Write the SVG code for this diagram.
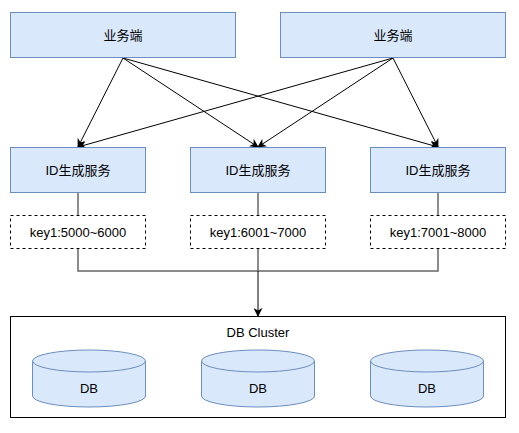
<svg xmlns="http://www.w3.org/2000/svg" width="519" height="433" viewBox="0 0 519 433">
<style>
.box{fill:#dae8fc;stroke:#6c8ebf;stroke-width:1}
.key{fill:#fff;stroke:#000;stroke-width:1;stroke-dasharray:3 3}
.t{font-family:"Liberation Sans","Noto Sans CJK SC",sans-serif;font-size:13px;fill:#000;text-anchor:middle;dominant-baseline:central}
.e{fill:none;stroke:#000;stroke-width:1}
.g{fill:none;stroke:#666;stroke-width:1.5}
</style>
<defs>
<marker id="ah" viewBox="0 0 10 10" refX="9" refY="5" markerWidth="9" markerHeight="9" markerUnits="userSpaceOnUse" orient="auto">
<path d="M0,0 L10,5 L0,10 L3,5 Z" fill="#000"/>
</marker>
</defs>
<rect width="519" height="433" fill="#fff"/>
<g id="connectors">
<line class="e" x1="123" y1="58" x2="78" y2="147" marker-end="url(#ah)"/>
<line class="e" x1="123" y1="58" x2="258" y2="147" marker-end="url(#ah)"/>
<line class="e" x1="123" y1="58" x2="438" y2="147" marker-end="url(#ah)"/>
<line class="e" x1="393" y1="58" x2="78" y2="147" marker-end="url(#ah)"/>
<line class="e" x1="393" y1="58" x2="258" y2="147" marker-end="url(#ah)"/>
<line class="e" x1="393" y1="58" x2="438" y2="147" marker-end="url(#ah)"/>
<line class="g" x1="78" y1="193" x2="78" y2="215"/>
<line class="g" x1="258" y1="193" x2="258" y2="215"/>
<line class="g" x1="438" y1="193" x2="438" y2="215"/>
<polyline class="g" points="78,249 78,271 438,271 438,249"/>
<line class="g" x1="258" y1="249" x2="258" y2="271"/>
<line class="e" x1="258" y1="271" x2="258" y2="316" stroke-width="1.5" marker-end="url(#ah)"/>
</g>
<g id="client1"><rect class="box" x="10.5" y="12.5" width="225" height="45"/><text class="t" x="123" y="35">业务端</text></g>
<g id="client2"><rect class="box" x="280.5" y="12.5" width="225" height="45"/><text class="t" x="393" y="35">业务端</text></g>
<g id="id1"><rect class="box" x="10.5" y="147.5" width="135" height="45"/><text class="t" x="78" y="170">ID生成服务</text></g>
<g id="id2"><rect class="box" x="190.5" y="147.5" width="135" height="45"/><text class="t" x="258" y="170">ID生成服务</text></g>
<g id="id3"><rect class="box" x="370.5" y="147.5" width="135" height="45"/><text class="t" x="438" y="170">ID生成服务</text></g>
<g id="key1"><rect class="key" x="10.5" y="215.5" width="135" height="33"/><text class="t" x="78" y="232">key1:5000~6000</text></g>
<g id="key2"><rect class="key" x="190.5" y="215.5" width="135" height="33"/><text class="t" x="258" y="232">key1:6001~7000</text></g>
<g id="key3"><rect class="key" x="370.5" y="215.5" width="135" height="33"/><text class="t" x="438" y="232">key1:7001~8000</text></g>
<g id="cluster">
<rect x="10.5" y="316.5" width="495" height="101" fill="#fff" stroke="#000" stroke-width="1"/>
<text class="t" x="258" y="332">DB Cluster</text>
</g>
<g id="db1"><path class="box" d="M32.5,361 A56.5,11 0 0 1 145.5,361 L145.5,396 A56.5,11 0 0 1 32.5,396 Z"/><path class="box" fill="none" d="M32.5,361 A56.5,11 0 0 0 145.5,361"/><text class="t" x="89" y="388">DB</text></g>
<g id="db2"><path class="box" d="M201.5,361 A56.5,11 0 0 1 314.5,361 L314.5,396 A56.5,11 0 0 1 201.5,396 Z"/><path class="box" fill="none" d="M201.5,361 A56.5,11 0 0 0 314.5,361"/><text class="t" x="258" y="388">DB</text></g>
<g id="db3"><path class="box" d="M370.5,361 A56.5,11 0 0 1 483.5,361 L483.5,396 A56.5,11 0 0 1 370.5,396 Z"/><path class="box" fill="none" d="M370.5,361 A56.5,11 0 0 0 483.5,361"/><text class="t" x="427" y="388">DB</text></g>
</svg>
